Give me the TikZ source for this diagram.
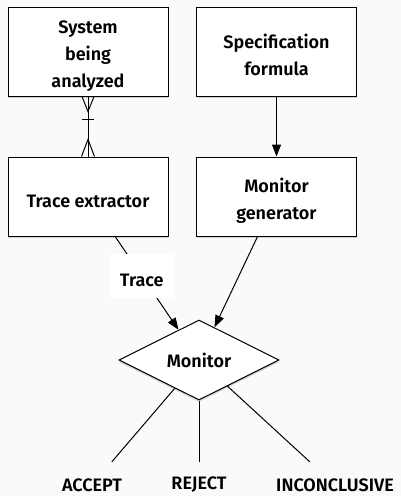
\documentclass[tikz,border=0pt]{standalone}
\usepackage{fontspec}
\setmainfont{Fira Sans}[BoldFont={Fira Sans SemiBold}]
\usetikzlibrary{arrows.meta,shapes.geometric,shadows}
\definecolor{bgcol}{HTML}{FAFAFA}
\newcommand\lnstr{\rule[-1pt]{0pt}{23pt}}

\begin{document}
\begin{tikzpicture}[x=1pt,y=-1pt,>={Triangle[length=12pt,width=9pt]},
  lbl/.style={font=\fontsize{18}{27}\selectfont\bfseries},
  box/.style={lbl,draw,line width=1pt,fill=white,minimum width=160pt,align=center,drop shadow={shadow xshift=0pt,shadow yshift=-2pt,opacity=0.35}},
  outcome/.style={lbl,minimum height=46pt,inner sep=0pt}]
\fill[bgcol] (0,0) rectangle (401,496);
\useasboundingbox (0,0) rectangle (401,496);
\node[box,minimum height=89pt] (sys) at (88,51.5) {\lnstr System\\\lnstr being\\\lnstr analyzed};
\node[box,minimum height=89pt] (spec) at (276.5,51.5) {\lnstr Specification\\\lnstr formula};
\node[box,minimum height=79pt] (trx) at (88,196.5) {\lnstr Trace extractor};
\node[box,minimum height=79pt] (gen) at (276.5,196.5) {\lnstr Monitor\\\lnstr generator};
\node[box,diamond,minimum width=160pt,minimum height=80pt,inner sep=0pt] (mon) at (199,360) {Monitor};
\node[outcome] (acc) at (92,485) {ACCEPT};
\node[outcome] (rej) at (199,485) {REJECT};
\node[outcome] (inc) at (335,485) {INCONCLUSIVE};
\begin{scope}[line width=1pt]
% one-or-many to many
\draw (sys) -- (trx);
\draw (sys.south) ++(-6,0) -- ++(6,15) -- ++(6,-15);
\draw (sys.south) ++(-6,23) -- ++(12,0);
\draw (trx.north) ++(-6.5,0) -- ++(6.5,-17) -- ++(6.5,17);
\draw[->] (spec) -- (gen);
\draw[->] (trx) -- node[lbl,pos=0.42,fill=white,minimum width=63pt,minimum height=44pt,inner sep=0pt]{\lnstr Trace} (mon);
\draw[->] (gen) -- (mon);
\draw (mon) -- (acc);
\draw (mon) -- (rej);
\draw (mon) -- (inc);
\end{scope}
\end{tikzpicture}
\end{document}
